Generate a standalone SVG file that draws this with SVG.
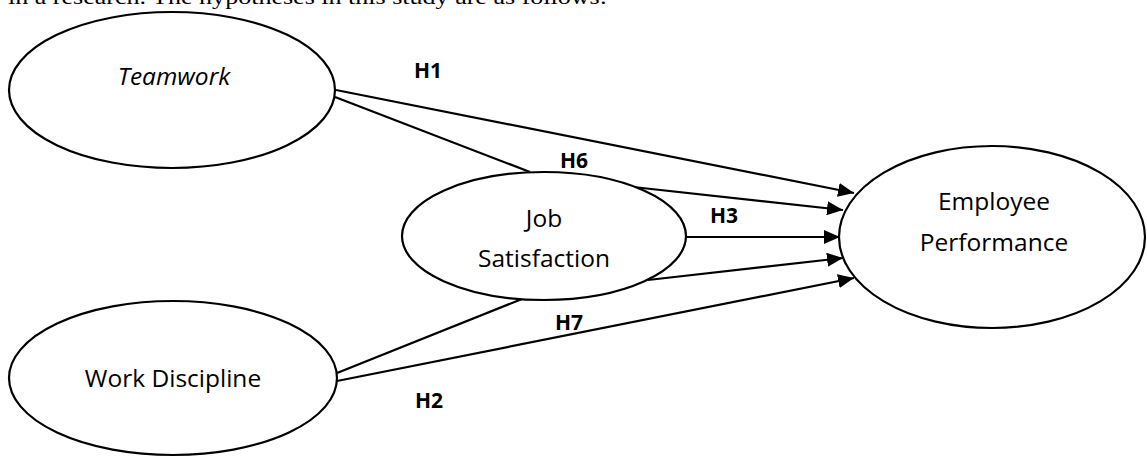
<svg xmlns="http://www.w3.org/2000/svg" width="1147" height="457" viewBox="0 0 1147 457">
  <style>
    .node { fill: #ffffff; stroke: #000000; stroke-width: 2.2; }
    .lbl { font-family: "Open Sans", "Noto Sans", sans-serif; font-size: 24.5px; fill: #000000; text-anchor: middle; }
    .hyp { font-family: "Open Sans", "Noto Sans", sans-serif; font-size: 21px; font-weight: bold; fill: #000000; }
    .edge { stroke: #000000; stroke-width: 2.2; fill: none; }
    .arrow { marker-end: url(#ah); }
  </style>
  <defs>
    <marker id="ah" markerUnits="userSpaceOnUse" markerWidth="17" markerHeight="14" refX="16" refY="7" orient="auto">
      <path d="M0,0 L16,7 L0,14 z" fill="#000000"/>
    </marker>
  </defs>
  <rect x="0" y="0" width="1147" height="457" fill="#ffffff"/>
  <text x="8" y="4" font-family="Liberation Serif, serif" font-size="21" textLength="599" lengthAdjust="spacingAndGlyphs">in a research. The hypotheses in this study are as follows:</text>

  <g id="connectors">
    <line class="edge arrow" x1="336" y1="90" x2="854" y2="193"/>
    <line class="edge" x1="335" y1="97" x2="530" y2="172"/>
    <line class="edge arrow" x1="633" y1="187" x2="843" y2="210"/>
    <line class="edge arrow" x1="686" y1="237" x2="840" y2="237"/>
    <line class="edge arrow" x1="648" y1="280" x2="843" y2="258"/>
    <line class="edge" x1="337" y1="373" x2="522" y2="299"/>
    <line class="edge arrow" x1="337" y1="381" x2="854" y2="278"/>
    <text class="hyp" x="414" y="78">H1</text>
    <text class="hyp" x="560" y="168">H6</text>
    <text class="hyp" x="710" y="223">H3</text>
    <text class="hyp" x="555" y="330">H7</text>
    <text class="hyp" x="415" y="408">H2</text>
  </g>

  <g id="teamwork">
    <ellipse class="node" cx="172" cy="90" rx="163" ry="78"/>
    <text class="lbl" x="174" y="85" font-style="italic">Teamwork</text>
  </g>
  <g id="work-discipline">
    <ellipse class="node" cx="173" cy="378" rx="164" ry="77"/>
    <text class="lbl" x="173" y="387">Work Discipline</text>
  </g>
  <g id="job-satisfaction">
    <ellipse class="node" cx="544" cy="236" rx="142" ry="64"/>
    <text class="lbl" x="544" y="227">Job</text>
    <text class="lbl" x="544" y="267">Satisfaction</text>
  </g>
  <g id="employee-performance">
    <ellipse class="node" cx="992" cy="237" rx="153" ry="91"/>
    <text class="lbl" x="994" y="210">Employee</text>
    <text class="lbl" x="994" y="251">Performance</text>
  </g>
</svg>
